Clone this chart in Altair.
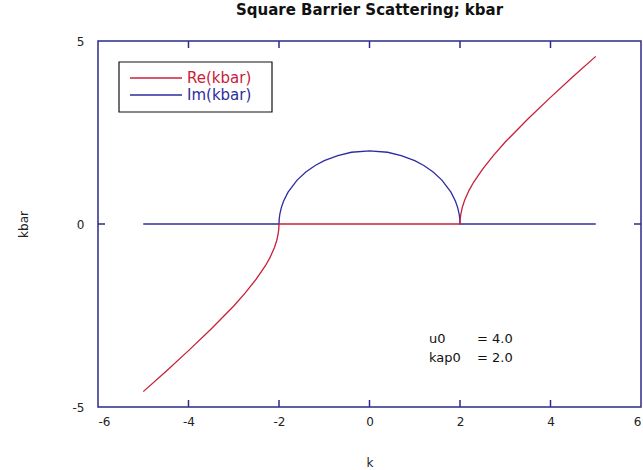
import altair as alt
import pandas as pd

# k grid and the two parts of kbar
k_re = [-5.0, -4.5, -4.0, -3.5, -3.0, -2.75, -2.5, -2.3, -2.2, -2.1, -2.05, -2.02, -2.005, -2.0,
        2.0, 2.005, 2.02, 2.05, 2.1, 2.2, 2.3, 2.5, 2.75, 3.0, 3.5, 4.0, 4.5, 5.0]
re_kbar = [-4.58, -4.03, -3.46, -2.87, -2.24, -1.89, -1.50, -1.14, -0.92, -0.64, -0.45, -0.28, -0.14, 0.0,
           0.0, 0.14, 0.28, 0.45, 0.64, 0.92, 1.14, 1.50, 1.89, 2.24, 2.87, 3.46, 4.03, 4.58]

k_im = [-5.0, -2.0, -1.995, -1.98, -1.95, -1.9, -1.8, -1.6, -1.4, -1.2, -1.0, -0.7, -0.4, 0.0,
        0.4, 0.7, 1.0, 1.2, 1.4, 1.6, 1.8, 1.9, 1.95, 1.98, 1.995, 2.0, 5.0]
im_kbar = [0.0, 0.0, 0.14, 0.28, 0.44, 0.62, 0.87, 1.20, 1.43, 1.60, 1.73, 1.87, 1.96, 2.0,
           1.96, 1.87, 1.73, 1.60, 1.43, 1.20, 0.87, 0.62, 0.44, 0.28, 0.14, 0.0, 0.0]

series_names = ["Re(kbar)", "Im(kbar)"]
series_colors = ["#c8203a", "#2c2ca0"]
frame_color = "#2b2b8c"

x_ticks = [-6, -4, -2, 0, 2, 4, 6]
inner_ticks = [-4, -2, 0, 2, 4]
y_ticks = [-5, 0, 5]

note_keys = ["u0", "kap0"]
note_vals = ["= 4.0", "= 2.0"]
note_y = [-3.14, -3.66]

FONT = "DejaVu Sans"
W, H = 543, 366

x_scale = alt.Scale(domain=[-6, 6], nice=False, zero=False)
y_scale = alt.Scale(domain=[-5, 5], nice=False, zero=False)

re_df = pd.DataFrame({"k": k_re, "v": re_kbar, "i": range(len(k_re)), "s": series_names[0]})
im_df = pd.DataFrame({"k": k_im, "v": im_kbar, "i": range(len(k_im)), "s": series_names[1]})

color = alt.Color("s:N", scale=alt.Scale(domain=series_names, range=series_colors), legend=None)

# plain hyphen for negative tick labels
hyphen_labels = "datum.value < 0 ? '-' + abs(datum.value) : '' + datum.value"

x_axis = alt.Axis(values=x_ticks, domain=False, ticks=False, grid=False, labelFont=FONT,
                  labelFontSize=12, labelColor="#222", labelPadding=9, labelExpr=hyphen_labels,
                  title="k", titleFont=FONT, titleFontSize=12, titleFontWeight="normal",
                  titleColor="#222", titlePadding=30)
y_axis = alt.Axis(values=y_ticks, domain=False, ticks=False, grid=False, labelFont=FONT,
                  labelFontSize=12, labelColor="#222", labelPadding=14, labelExpr=hyphen_labels,
                  title="kbar", titleFont=FONT, titleFontSize=12, titleFontWeight="normal",
                  titleColor="#222", titlePadding=42)

im_line = alt.Chart(im_df).mark_line(strokeWidth=1.3).encode(
    x=alt.X("k:Q", scale=x_scale, axis=x_axis),
    y=alt.Y("v:Q", scale=y_scale, axis=y_axis),
    color=color, order="i:Q")
re_line = alt.Chart(re_df).mark_line(strokeWidth=1.3).encode(
    x=alt.X("k:Q", scale=x_scale), y=alt.Y("v:Q", scale=y_scale), color=color, order="i:Q")

# inward tick marks on the frame
tick_df = pd.DataFrame({"t": inner_ticks})
top_ticks = alt.Chart(tick_df).mark_rule(color=frame_color, strokeWidth=1.5).encode(
    x=alt.X("t:Q", scale=x_scale), y=alt.value(0), y2=alt.value(7))
bottom_ticks = alt.Chart(tick_df).mark_rule(color=frame_color, strokeWidth=1.5).encode(
    x=alt.X("t:Q", scale=x_scale), y=alt.value(H - 7), y2=alt.value(H))
zero_df = pd.DataFrame({"z": [0]})
left_tick = alt.Chart(zero_df).mark_rule(color=frame_color, strokeWidth=1.5).encode(
    y=alt.Y("z:Q", scale=y_scale), x=alt.value(0), x2=alt.value(7))
right_tick = alt.Chart(zero_df).mark_rule(color=frame_color, strokeWidth=1.5).encode(
    y=alt.Y("z:Q", scale=y_scale), x=alt.value(W - 7), x2=alt.value(W))

# legend: framed box with a swatch line and coloured label per series
layers = [im_line, re_line, top_ticks, bottom_ticks, left_tick, right_tick]
layers.append(alt.Chart(pd.DataFrame({"b": [0]})).mark_rect(
    fill="white", stroke="#111", strokeWidth=1.2).encode(
    x=alt.value(21), x2=alt.value(174), y=alt.value(21), y2=alt.value(71)))
for row, (name, col) in enumerate(zip(series_names, series_colors)):
    ypos = 37 + row * 17
    row_df = pd.DataFrame({"s": [name]})
    layers.append(alt.Chart(row_df).mark_rule(strokeWidth=1.3, color=col).encode(
        x=alt.value(32), x2=alt.value(84), y=alt.value(ypos)))
    layers.append(alt.Chart(row_df).mark_text(
        align="left", baseline="middle", font=FONT, fontSize=15, color=col).encode(
        x=alt.value(89), y=alt.value(ypos), text="s:N"))

note_df = pd.DataFrame({"key": note_keys, "val": note_vals, "y": note_y})
layers.append(alt.Chart(note_df).mark_text(
    align="left", baseline="middle", font=FONT, fontSize=13, color="#111").encode(
    x=alt.value(331), y=alt.Y("y:Q", scale=y_scale), text="key:N"))
layers.append(alt.Chart(note_df).mark_text(
    align="left", baseline="middle", font=FONT, fontSize=13, color="#111").encode(
    x=alt.value(379), y=alt.Y("y:Q", scale=y_scale), text="val:N"))

chart = alt.layer(*layers).properties(
    width=W, height=H,
    padding={"left": 98, "top": 41, "right": 2, "bottom": 63},
    autosize=alt.AutoSizeParams(type="none"),
    title=alt.TitleParams("Square Barrier Scattering; kbar", font=FONT, fontSize=15,
                          fontWeight="bold", color="#111", anchor="middle", offset=17),
).configure(background="white").configure_view(stroke=frame_color, strokeWidth=1.5)

chart.save("out.html", embed_options={"renderer": "svg", "actions": False})
